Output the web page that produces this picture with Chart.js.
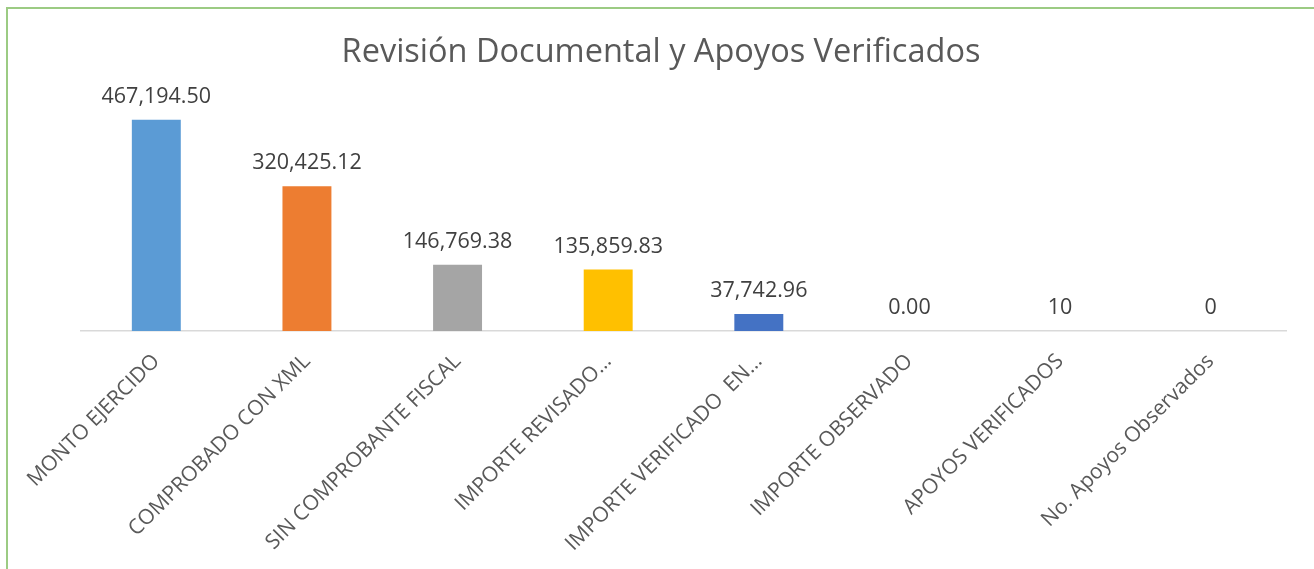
<!DOCTYPE html>
<html>
<head>
<meta charset="utf-8">
<script src="https://cdn.jsdelivr.net/npm/chart.js@4.4.0/dist/chart.umd.min.js"></script>
<style>
    html, body { margin: 0; padding: 0; background: #ffffff; }
    #wrap { position: relative; width: 1314px; height: 569px; overflow: hidden; }
    #frame {
        position: absolute; left: 6px; top: 7px; width: 1400px; height: 600px;
        border-left: 2px solid #9ccb83; border-top: 2px solid #9ccb83;
        pointer-events: none;
    }
    canvas { position: absolute; left: 0; top: 0; }
</style>
</head>
<body>
<div id="wrap">
    <canvas id="chart" width="1314" height="569"></canvas>
    <div id="frame"></div>
</div>
<script>
    // Chart data
    const categories = [
        'MONTO EJERCIDO',
        'COMPROBADO CON XML',
        'SIN COMPROBANTE FISCAL',
        'IMPORTE REVISADO…',
        'IMPORTE VERIFICADO  EN…',
        'IMPORTE OBSERVADO',
        'APOYOS VERIFICADOS',
        'No. Apoyos Observados'
    ];
    const values = [467194.50, 320425.12, 146769.38, 135859.83, 37742.96, 0, 10, 0];
    const labelDecimals = [2, 2, 2, 2, 2, 2, 0, 0];
    const barColors = ['#5B9BD5', '#ED7D31', '#A5A5A5', '#FFC000', '#4472C4', '#70AD47', '#264478', '#9E480E'];
    const chartTitle = 'Revisión Documental y Apoyos Verificados';

    const fontFamily = '"Open Sans", "Liberation Sans", sans-serif';

    // Draws the value above each bar
    const valueLabels = {
        id: 'valueLabels',
        afterDatasetsDraw(chart) {
            const ctx = chart.ctx;
            const meta = chart.getDatasetMeta(0);
            ctx.save();
            ctx.font = '21.5px ' + fontFamily;
            ctx.fillStyle = '#404040';
            ctx.textAlign = 'center';
            ctx.textBaseline = 'middle';
            meta.data.forEach((bar, i) => {
                const text = values[i].toLocaleString('en-US', {
                    minimumFractionDigits: labelDecimals[i],
                    maximumFractionDigits: labelDecimals[i]
                });
                ctx.fillText(text, bar.x, bar.y - 23);
            });
            ctx.restore();
        }
    };

    new Chart(document.getElementById('chart').getContext('2d'), {
        type: 'bar',
        data: {
            labels: categories,
            datasets: [{
                data: values,
                backgroundColor: barColors,
                categoryPercentage: 1,
                barPercentage: 0.325
            }]
        },
        options: {
            responsive: false,
            animation: false,
            layout: { padding: { left: 36, right: 28, top: 0, bottom: 0 } },
            plugins: {
                legend: { display: false },
                tooltip: { enabled: false },
                title: {
                    display: true,
                    text: chartTitle,
                    color: '#595959',
                    font: { family: fontFamily, size: 32.5, weight: 'normal' },
                    padding: { top: 33, bottom: 33 }
                }
            },
            scales: {
                x: {
                    grid: { display: false },
                    border: { display: true, color: '#d9d9d9', width: 1.5 },
                    ticks: {
                        color: '#595959',
                        font: { family: fontFamily, size: 21 },
                        minRotation: 45,
                        maxRotation: 45,
                        autoSkip: false,
                        padding: 10
                    },
                    afterFit(scale) { scale.height = 238; }
                },
                y: {
                    min: 0,
                    max: 500000,
                    grid: { display: false },
                    border: { display: false },
                    ticks: { display: false },
                    afterFit(scale) { scale.width = 45; }
                }
            }
        },
        plugins: [valueLabels]
    });
</script>
</body>
</html>
